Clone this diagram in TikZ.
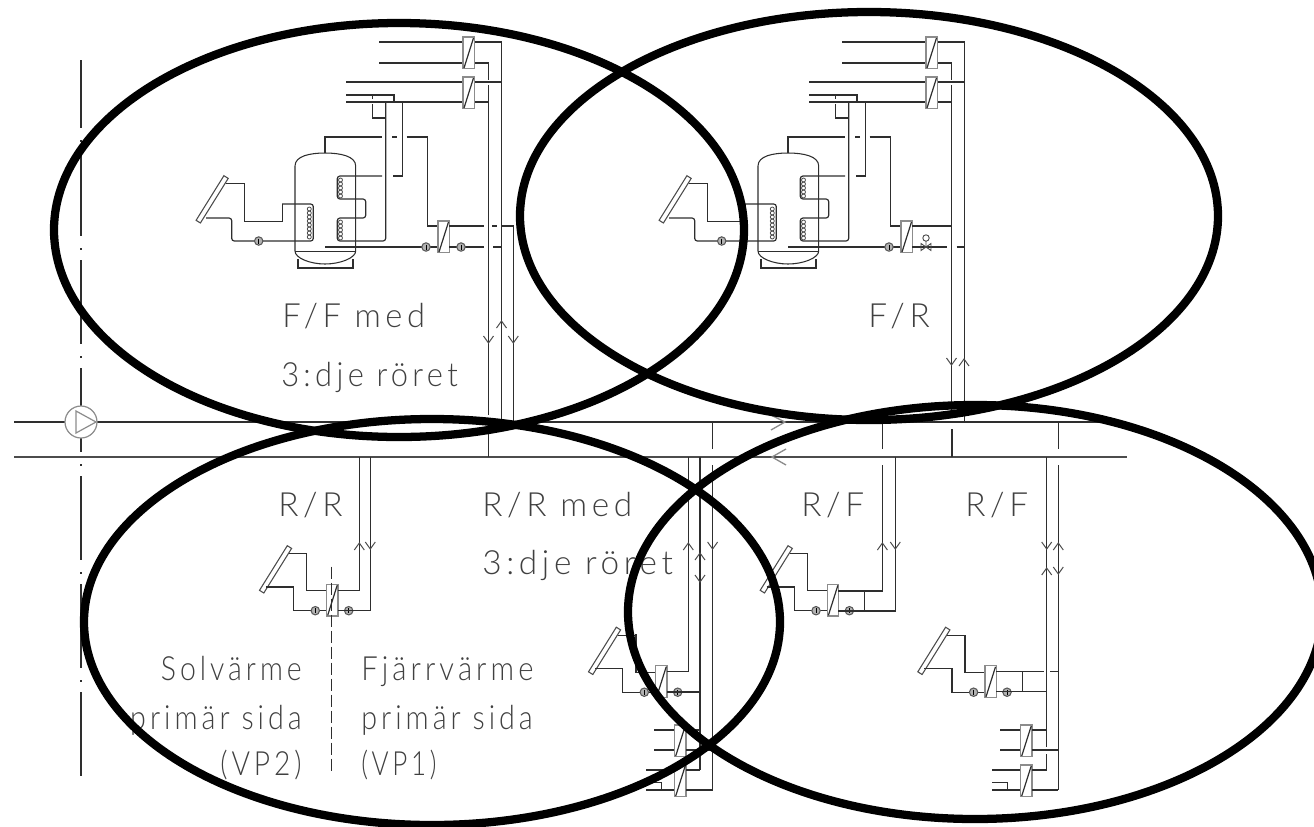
\documentclass[tikz,border=0pt]{standalone}
\usepackage{fontspec}
\newfontfamily\cad[LetterSpace=14,UprightFont=* Light]{Lato}
\definecolor{hxgray}{gray}{0.55}
\definecolor{txt}{gray}{0.25}
\tikzset{
  pipe/.style={line width=0.9pt,color=black!82},
  hxbox/.style={line width=0.9pt,draw=hxgray,fill=white},
  collbox/.style={line width=0.8pt,draw=black!70,fill=white},
  chev/.style={line width=0.75pt,color=black!70},
  ring/.style={line width=6.2pt,draw=black},
  lab/.style={anchor=base west,inner sep=0pt,text=txt,font=\cad\fontsize{25}{25}\selectfont},
  labr/.style={anchor=base east,inner sep=0pt,text=txt,font=\cad\fontsize{25}{25}\selectfont},
}
\newcommand{\hxat}[2]{%
  \draw[hxbox] (#1,#2) rectangle ++(11.3,31.7);
  \draw[pipe] (#1+1,#2+31) -- (#1+10.5,#2+1);}
\newcommand{\pumpat}[2]{%
  \draw[line width=0.8pt,draw=black!65,fill=black!30] (#1,#2) circle[radius=4.2];
  \draw[line width=0.5pt,black] (#1,#2-2.5)--(#1,#2+2.5);}
\newcommand{\collector}{%
  \draw[collbox] (259.5,590.3)--(263.8,593)--(291.6,548.4)--(287.3,545.7)--cycle;}
\newcommand{\upchev}[2]{\draw[chev] (#1-5,#2+7)--(#1,#2)--(#1+5,#2+7);}
\newcommand{\dnchev}[2]{\draw[chev] (#1-5,#2-7)--(#1,#2)--(#1+5,#2-7);}
\newcommand{\hs}[2]{\scalebox{#1}[1]{#2}}
\newcommand{\solarmod}{%
  \collector
  \draw[pipe] (289,553.7)--(306.7,553.7)--(306.7,590.7)--(326.7,590.7);
  \draw[pipe] (266,587)--(293.7,587)--(293.7,610.7)--(326.7,610.7);
  \hxat{326.7}{584.3}
  \pumpat{315.3}{610.7}
  \pumpat{348.7}{610.7}}
\newcommand{\topmod}{%
  \draw[pipe] (379,42)--(463,42) (379,63)--(463,63) (346,82)--(463,82) (346,102)--(463,102);
  \draw[pipe] (346,95)--(394,95)--(394,102);
  \draw[pipe] (474,42)--(501.5,42)--(501.5,422);
  \draw[pipe] (474,63)--(488.5,63)--(488.5,80);
  \draw[pipe] (474,82)--(501.5,82) (474,102)--(488.5,102);
  \draw[pipe] (372.7,95)--(372.7,99) (372.7,104)--(372.7,118)--(385.7,118);
  \draw[pipe] (325,153)--(325,137)--(381.7,137) (392,137)--(397,137) (406.7,137)--(427.7,137)--(427.7,226)--(438,226);
  \draw[pipe] (402.4,102)--(402.4,176)--(393,176);
  \draw[pipe,rounded corners=2] (382,176)--(337.3,176)--(337.3,199)--(365.7,199)--(365.7,218)--(337.3,218)--(337.3,241)--(385.7,241)--(385.7,102);
  \draw[pipe] (325,247)--(438,247);
  \draw[pipe] (298,259)--(298,268)--(353,268)--(353,259);
  \draw[pipe,line width=0.8pt] (295,166) .. controls (295,156) and (310,153) .. (325,153) .. controls (340,153) and (355.7,156) .. (355.7,166) -- (355.7,251) .. controls (355.7,258) and (340,264) .. (325,264) .. controls (310,264) and (295,258) .. (295,251) -- cycle;
  \draw[pipe] (295,251.5)--(355.7,251.5);
  \begin{scope}[shift={(-63.4,-370)}]
    \collector
    \draw[pipe] (289,553.7)--(308,553.7)--(308,591.7)--(345.5,591.7)--(345.5,574);
  \end{scope}
  \draw[pipe,rounded corners=2] (282,204)--(313.3,204)--(313.3,241)--(231.7,241)--(231.7,218)--(206,218);
  \foreach \yy in {209,213,...,237}{\draw[line width=0.6pt,black!70] (309.3,\yy) circle[radius=2];}
  \foreach \yy in {180,184,...,196}{\draw[line width=0.6pt,black!70] (340.5,\yy) circle[radius=2];}
  \foreach \yy in {222,226,...,238}{\draw[line width=0.6pt,black!70] (340.5,\yy) circle[radius=2];}
  \pumpat{258.7}{241}
  \pumpat{426}{247}
  \hxat{463}{37}
  \hxat{463}{77}
  \hxat{438}{221}}
\newcommand{\lowstack}{%
  \draw[pipe] (0,5)--(20.7,5) (0,25)--(20.7,25) (-8,45)--(20.7,45) (-8,65)--(20.7,65) (-8,57.5)--(7.7,57.5)--(7.7,65);
  \hxat{20.7}{0}
  \hxat{20.7}{40}}
\begin{document}
\begin{tikzpicture}[x=0.75pt,y=-0.75pt]
\useasboundingbox (0,0) rectangle (1314,826);
\draw[pipe,dash pattern=on 63pt off 9pt on 1.5pt off 7.5pt,dash phase=12pt] (81,60)--(81,785);
\draw[pipe] (14,422)--(1105,422);
\draw[pipe,color=black!70,line width=1.1pt] (14,457)--(1127,457);
\node[draw=hxgray,circle,fill=white,line width=0.9pt,minimum size=24pt,inner sep=0pt] (pmain) at (81,422) {};
\draw[line width=0.9pt,draw=hxgray] (76,411)--(76,433)--(96,422)--cycle;
\draw[chev,line width=1pt,hxgray] (771,415)--(785,422)--(771,430);
\draw[chev,line width=1pt,hxgray] (786,449)--(772,457)--(786,465);
% top left group
\topmod
\draw[pipe] (488.5,85)--(488.5,415) (488.5,428)--(488.5,457);
\draw[pipe] (449,226)--(484,226) (492,226)--(497,226) (501.5,226)--(513.3,226)--(513.3,422);
\draw[pipe] (449,247)--(484,247) (493,247)--(501.5,247);
\pumpat{461}{247}
\dnchev{488.5}{343}
\upchev{501.5}{321}
\dnchev{513.3}{343}
% top right group
\begin{scope}[shift={(463,0)}]
\topmod
\draw[pipe] (488.5,85)--(488.5,410) (488.5,429)--(488.5,457);
\draw[pipe] (449,226)--(488.5,226);
\draw[pipe] (449,247)--(483.7,247) (493.7,247)--(501,247);
\draw[line width=0.7pt,black!70] (463,238) circle[radius=3.2] (463,241)--(463,247);
\draw[line width=0.7pt,black!70] (458,243.5)--(468,250.5)--(468,243.5)--(458,250.5)--cycle;
\dnchev{488.5}{365}
\upchev{501}{359}
\end{scope}
% R/R
\solarmod
\draw[pipe] (359.3,457)--(359.3,590.7)--(338,590.7) (370.3,457)--(370.3,610.7)--(338,610.7);
\upchev{359.3}{543}
\dnchev{370.3}{549}
\draw[pipe,dash pattern=on 9pt off 3pt] (331.7,566.7)--(331.7,771.7);
% R/R med
\begin{scope}[shift={(329,81.5)}]
\solarmod
\end{scope}
\draw[pipe] (636,634)--(636,672.2);
\draw[pipe] (667,671.5)--(688.3,671.5)--(688.3,457);
\draw[pipe] (667,692)--(700,692);
\draw[pipe] (700,457)--(700,770);
\draw[pipe] (712.6,422)--(712.6,449) (712.6,465)--(712.6,790);
\upchev{688.3}{543}
\upchev{700}{553}
\dnchev{700}{582}
\dnchev{712.6}{549}
\begin{scope}[shift={(654,725)}]\lowstack\end{scope}
\draw[pipe] (686,730)--(700,730) (686,750)--(712.6,750) (686,770)--(700,770) (686,790)--(712.6,790);
% R/F 1
\begin{scope}[shift={(500.7,0)}]
\solarmod
\end{scope}
\draw[pipe] (838,591)--(882.4,591)--(882.4,465) (882.4,449)--(882.4,422);
\draw[pipe] (838,611)--(895.3,611)--(895.3,457);
\draw[pipe] (864.7,591)--(864.7,611);
\upchev{882.4}{543}
\dnchev{895.3}{549}
% R/F 2
\begin{scope}[shift={(658.3,81.5)}]
\solarmod
\end{scope}
\draw[pipe] (996,671.5)--(1044,671.5) (1050,671.5)--(1058.3,671.5);
\draw[pipe] (996,691.5)--(1046.7,691.5);
\draw[pipe] (1022.3,671.5)--(1022.3,691.5);
\draw[pipe] (1046.7,457)--(1046.7,746.7) (1046.7,754)--(1046.7,770);
\draw[pipe] (1058.3,422)--(1058.3,449) (1058.3,465)--(1058.3,790);
\dnchev{1046.7}{549}
\upchev{1046.7}{568}
\upchev{1058.3}{543}
\dnchev{1058.3}{574}
\begin{scope}[shift={(1000,725)}]\lowstack\end{scope}
\draw[pipe] (1032,730)--(1046.7,730) (1032,750)--(1058.3,750) (1032,770)--(1046.7,770) (1032,790)--(1058.3,790);
\draw[pipe] (952.4,429)--(952.4,457);
% labels
\node[lab] (t1) at (282,327) {\hs{0.98}{F/F med}};
\node[lab] (t2) at (281,386) {\hs{0.926}{3:dje röret}};
\node[lab] (t3) at (868,327) {F/R};
\node[lab] (t4) at (278,516) {R/R};
\node[lab] (t5) at (482,516) {R/R med};
\node[lab] (t6) at (482,574) {\hs{1.0}{3:dje röret}};
\node[labr] (t7) at (302,680) {\hs{0.854}{Solvärme}};
\node[labr] (t8) at (302,729) {\hs{0.86}{primär sida}};
\node[labr] (t9) at (302,775) {\hs{0.845}{(VP2)}};
\node[lab] (t10) at (361,680) {\hs{0.877}{Fjärrvärme}};
\node[lab] (t11) at (361,729) {\hs{0.86}{primär sida}};
\node[lab] (t12) at (361,775) {\hs{0.78}{(VP1)}};
\node[lab] (t13) at (801,516) {R/F};
\node[lab] (t14) at (965,516) {R/F};
% ellipses
\draw[ring] (399,230) ellipse[x radius=345,y radius=207];
\draw[ring] (869,216) ellipse[x radius=349,y radius=204];
\draw[ring] (432,622) ellipse[x radius=348,y radius=203];
\draw[ring] (975,612) ellipse[x radius=347,y radius=207];
\end{tikzpicture}
\end{document}
